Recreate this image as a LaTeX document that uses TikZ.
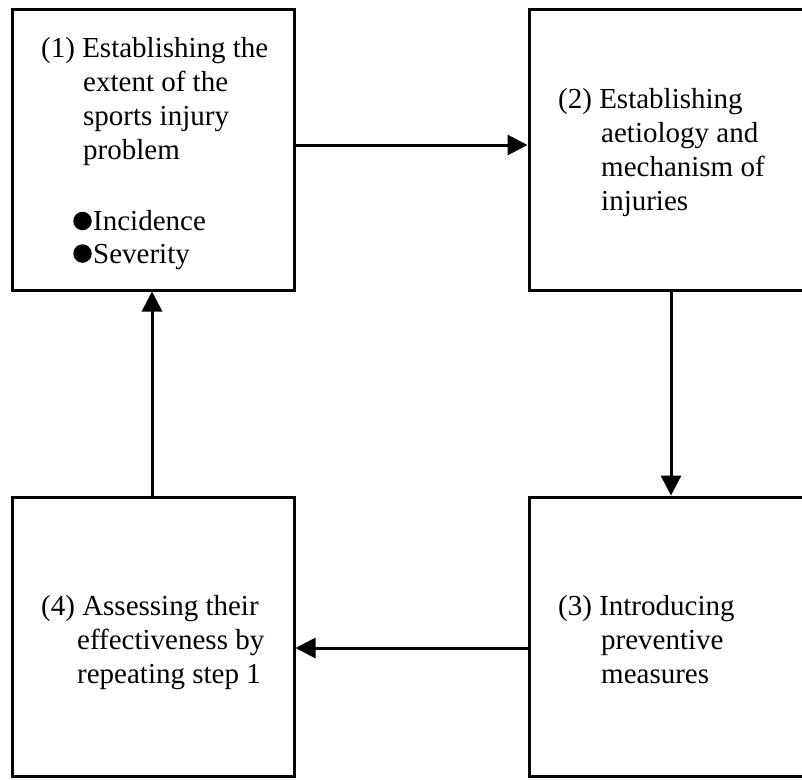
\documentclass[tikz,border=0pt]{standalone}
\usepackage{fontspec}
\setmainfont{Liberation Serif}
\usetikzlibrary{arrows.meta}
\begin{document}
\begin{tikzpicture}[x=1pt,y=-1pt,
  stepbox/.style={draw=black, line width=3pt, rectangle, inner sep=0pt},
  txt/.style={anchor=base west, inner sep=0pt, font=\fontsize{29}{34}\selectfont},
  bulletdot/.style={circle, fill=black, inner sep=0pt, minimum size=18.5pt},
  arr/.style={line width=3pt, -{Triangle[length=20pt,width=20pt]}}]
\useasboundingbox (0,0) rectangle (802,779);
\fill[white] (0,0) rectangle (802,779);
% boxes
\node[stepbox, minimum width=282pt, minimum height=281pt] (b1) at (153,149.5) {};
\node[stepbox, minimum width=276pt, minimum height=281pt] (b2) at (667,149.5) {};
\node[stepbox, minimum width=276pt, minimum height=279pt] (b3) at (667,636.5) {};
\node[stepbox, minimum width=282pt, minimum height=279pt] (b4) at (153,636.5) {};
% texts
\node[txt] (t1) at (41,57) {\begin{tabular}[t]{@{}l@{}}(1) Establishing the\\\hspace*{42pt}extent of the\\\hspace*{42pt}sports injury\\\hspace*{42pt}problem\end{tabular}};
\node[bulletdot] (d1) at (82.5,221) {};
\node[txt] (t1a) at (93,230) {Incidence};
\node[bulletdot] (d2) at (82.5,253.5) {};
\node[txt] (t1b) at (93,263) {Severity};
\node[txt] (t2) at (558,108) {\begin{tabular}[t]{@{}l@{}}(2) Establishing\\\hspace*{43pt}aetiology and\\\hspace*{43pt}mechanism of\\\hspace*{43pt}injuries\end{tabular}};
\node[txt] (t3) at (558,615) {\begin{tabular}[t]{@{}l@{}}(3) Introducing\\\hspace*{43pt}preventive\\\hspace*{43pt}measures\end{tabular}};
\node[txt] (t4) at (41,615) {\begin{tabular}[t]{@{}l@{}}(4) Assessing their\\\hspace*{36pt}effectiveness by\\\hspace*{36pt}repeating step 1\end{tabular}};
% arrows
\draw[arr] (b1.east |- 0,145) -- (b2.west |- 0,145);
\draw[arr] (b2.south -| 671,0) -- (b3.north -| 671,0);
\draw[arr] (b3.west |- 0,648) -- (b4.east |- 0,648);
\draw[arr] (b4.north -| 152,0) -- (b1.south -| 152,0);
\end{tikzpicture}
\end{document}
